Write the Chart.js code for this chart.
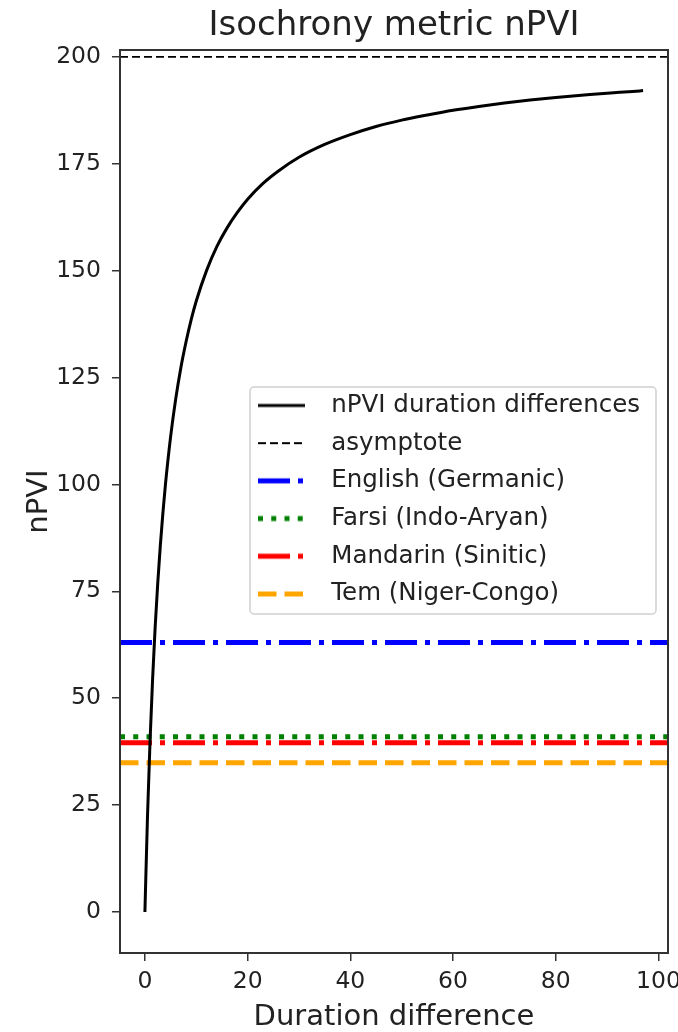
<!DOCTYPE html>
<html>
<head>
<meta charset="utf-8">
<script src="https://cdn.jsdelivr.net/npm/chart.js@4.4.1/dist/chart.umd.min.js"></script>
<style>
html,body{margin:0;padding:0;background:#fff;overflow:hidden}
canvas{display:block}
</style>
</head>
<body>
<canvas id="c" width="678" height="1032"></canvas>
<script>
// ---- data ----
const durationDiff = [0, 0.5, 1, 1.5, 2, 2.5, 3, 3.5, 4, 5, 6, 7, 8, 9, 10, 12, 14, 16, 18, 20, 23, 26, 30, 35, 40, 45, 50, 55, 60, 65, 70, 75, 80, 85, 90, 95, 97];
const npviValues   = [0, 22.2, 40, 54.5, 66.7, 76.9, 85.7, 93.3, 100, 111.1, 120, 127.3, 133.3, 138.5, 142.9, 150, 155.6, 160, 163.6, 166.7, 170.4, 173.3, 176.5, 179.5, 181.8, 183.7, 185.2, 186.4, 187.5, 188.4, 189.2, 189.9, 190.5, 191.0, 191.5, 191.9, 192.1];
const asymptoteValue = 200;
const languageNames = ['English (Germanic)', 'Farsi (Indo-Aryan)', 'Mandarin (Sinitic)', 'Tem (Niger-Congo)'];
const languageNPVI  = [63, 41, 39.6, 34.9];
const xTickValues = [0, 20, 40, 60, 80, 100];
const yTickValues = [0, 25, 50, 75, 100, 125, 150, 175, 200];
const xRange = [-4.85, 101.85];
const yRange = [-9.6, 201.6];

// ---- styles ----
const FONT = "'DejaVu Sans', 'Liberation Sans', sans-serif";
const TEXT = '#222';
const languageStyles = [
  { color: '#0000ff', dash: [32, 8, 5, 8], width: 5 },
  { color: '#008000', dash: [5, 8.25], width: 5 },
  { color: '#ff0000', dash: [32, 8, 5, 8], width: 5 },
  { color: '#ffa500', dash: [18.5, 8], width: 5 }
];
const asymptoteDash = [8, 4];

function legendSample(color, dash, lw) {
  const c = document.createElement('canvas');
  c.width = 61; c.height = 14;
  const g = c.getContext('2d');
  g.strokeStyle = color; g.lineWidth = lw; g.setLineDash(dash);
  g.beginPath(); g.moveTo(0, 7); g.lineTo(47, 7); g.stroke();
  return c;
}

const datasets = [
  {
    label: 'nPVI duration differences',
    data: durationDiff.map((x, i) => ({ x: x, y: npviValues[i] })),
    borderColor: '#000', backgroundColor: '#000', borderWidth: 3,
    showLine: true, pointRadius: 0, cubicInterpolationMode: 'monotone',
    pointStyle: legendSample('#000', [], 3)
  },
  {
    label: 'asymptote',
    data: xRange.map(x => ({ x: x, y: asymptoteValue })),
    borderColor: '#000', backgroundColor: '#000', borderWidth: 1.8, borderDash: asymptoteDash,
    showLine: true, pointRadius: 0,
    pointStyle: legendSample('#000', asymptoteDash, 1.8)
  }
];
languageNames.forEach((name, i) => {
  const s = languageStyles[i];
  datasets.push({
    label: name,
    data: xRange.map(x => ({ x: x, y: languageNPVI[i] })),
    borderColor: s.color, backgroundColor: s.color, borderWidth: s.width, borderDash: s.dash,
    borderCapStyle: 'butt',
    showLine: true, pointRadius: 0,
    pointStyle: legendSample(s.color, s.dash, s.width)
  });
});

const frames = {
  id: 'frames',
  afterLayout(chart) {
    const a = chart.chartArea;
    const t = chart.titleBlock;
    if (t) { t.left = a.left; t.right = a.right; t.width = a.right - a.left; }
    const lg = chart.legend;
    if (lg) { lg.left = 244.8; lg.top = 380; lg.right = 660; lg.bottom = 650; lg.width = 415.2; lg.height = 270; }
  },
  beforeDraw(chart) {
    const ctx = chart.ctx;
    ctx.save();
    const x = 250, y = 387, w = 406, h = 227, r = 4;
    ctx.beginPath();
    ctx.moveTo(x + r, y); ctx.lineTo(x + w - r, y); ctx.arcTo(x + w, y, x + w, y + r, r);
    ctx.lineTo(x + w, y + h - r); ctx.arcTo(x + w, y + h, x + w - r, y + h, r);
    ctx.lineTo(x + r, y + h); ctx.arcTo(x, y + h, x, y + h - r, r);
    ctx.lineTo(x, y + r); ctx.arcTo(x, y, x + r, y, r); ctx.closePath();
    ctx.fillStyle = 'rgba(255,255,255,0.8)'; ctx.fill();
    ctx.strokeStyle = '#d0d0d0'; ctx.lineWidth = 1.5; ctx.stroke();
    ctx.restore();
  },
  afterDraw(chart) {
    const a = chart.chartArea, ctx = chart.ctx;
    ctx.save();
    ctx.strokeStyle = '#333'; ctx.lineWidth = 2;
    ctx.strokeRect(a.left, a.top, a.right - a.left, a.bottom - a.top);
    ctx.restore();
  }
};

Chart.defaults.font.family = FONT;
Chart.defaults.color = TEXT;

new Chart(document.getElementById('c'), {
  type: 'scatter',
  data: { datasets: datasets },
  options: {
    responsive: false,
    animation: false,
    devicePixelRatio: 1,
    layout: { padding: { top: 0, left: 0, right: 10, bottom: 0 } },
    plugins: {
      title: {
        display: true, text: 'Isochrony metric nPVI', color: TEXT,
        font: { size: 34, weight: 'normal', family: FONT, lineHeight: 1.2 },
        padding: { top: 5.5, bottom: 3.7 }
      },
      legend: {
        display: true, position: 'chartArea', align: 'start',
        labels: {
          usePointStyle: true, pointStyleWidth: 61, padding: 13.2, color: TEXT,
          font: { size: 24.5, family: FONT }
        }
      },
      tooltip: { enabled: false }
    },
    scales: {
      x: {
        type: 'linear', min: xRange[0], max: xRange[1],
        afterBuildTicks: s => { s.ticks = xTickValues.map(v => ({ value: v })); },
        afterFit: s => { s.height = 79; s.paddingLeft = 0; s.paddingRight = 0; },
        ticks: { color: TEXT, font: { size: 23.5, family: FONT }, padding: 6.5, maxRotation: 0, autoSkip: false },
        grid: { display: true, drawOnChartArea: false, drawTicks: true, tickLength: 8, color: '#333', lineWidth: 1.5 },
        border: { display: false },
        title: { display: true, text: 'Duration difference', color: TEXT, font: { size: 29, family: FONT, lineHeight: 1 }, padding: { top: 0, bottom: 0 } }
      },
      y: {
        type: 'linear', min: yRange[0], max: yRange[1],
        afterBuildTicks: s => { s.ticks = yTickValues.map(v => ({ value: v })); },
        afterFit: s => { s.width = 120; s.paddingTop = 0; s.paddingBottom = 0; },
        ticks: { color: TEXT, font: { size: 23.5, family: FONT }, padding: 11, autoSkip: false },
        grid: { display: true, drawOnChartArea: false, drawTicks: true, tickLength: 8, color: '#333', lineWidth: 1.5 },
        border: { display: false },
        title: { display: true, text: 'nPVI', color: TEXT, font: { size: 29, family: FONT, lineHeight: 1 }, padding: { top: 25, bottom: 0 } }
      }
    }
  },
  plugins: [frames]
});
</script>
</body>
</html>
